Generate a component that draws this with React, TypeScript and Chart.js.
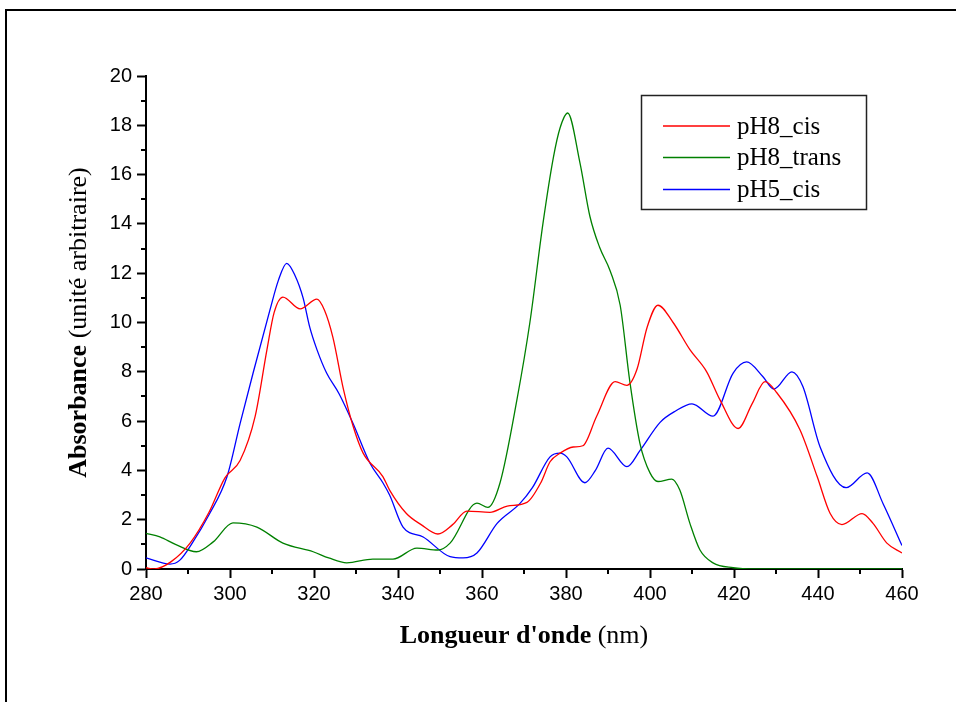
import React, { useEffect, useRef } from "react";
import { Chart, registerables } from "chart.js";

Chart.register(...registerables);

// ---- Data ----
const SERIES_LABELS = ["pH8_cis", "pH8_trans", "pH5_cis"];
const SERIES_COLORS = ["#ff0000", "#008000", "#0000ff"];

const redX = [280, 282, 286, 290.5, 295, 298.8, 302.4, 306, 308.8, 310.5, 312.6, 316.7, 320.7, 322.5, 324.5, 327, 329.3, 331.7, 336.4, 338, 342, 345.5, 349.5, 353, 356.4, 361.9, 366, 370.7, 374, 376.2, 378.6, 381.7, 384, 387.3, 391.7, 394.5, 396.9, 399.3, 401.9, 405.5, 409.5, 413.5, 416.7, 421, 424.3, 427.4, 430.2, 435.7, 439.8, 442.9, 445.7, 450.5, 453.1, 456.4, 460];
const redY = [0.05, 0.0, 0.3, 1.05, 2.3, 3.7, 4.4, 6.2, 8.9, 10.4, 11.03, 10.55, 10.95, 10.5, 9.4, 7.3, 5.8, 4.7, 3.75, 3.2, 2.25, 1.8, 1.42, 1.8, 2.35, 2.3, 2.55, 2.7, 3.5, 4.35, 4.7, 4.95, 5.0, 6.2, 7.6, 7.45, 8.1, 9.8, 10.7, 10.0, 8.9, 8.0, 6.85, 5.7, 6.7, 7.6, 7.15, 5.65, 3.75, 2.25, 1.8, 2.25, 1.85, 1.05, 0.65];

const greenX = [280, 283.3, 287, 292, 296, 300.7, 306.4, 312.6, 319.8, 323.5, 327.8, 334, 338.8, 344.5, 349.5, 352.4, 358.8, 361.4, 364.3, 368.3, 371.4, 374.5, 377, 378.6, 380.4, 383.3, 385.7, 388, 390.5, 392.9, 395.2, 397.6, 400, 401.9, 405.2, 407.1, 409.5, 411.9, 415, 419.8, 425, 440, 460];
const greenY = [1.45, 1.3, 1.0, 0.7, 1.1, 1.87, 1.7, 1.05, 0.7, 0.45, 0.25, 0.4, 0.4, 0.85, 0.77, 1.05, 2.67, 2.5, 3.5, 6.85, 10.0, 14.0, 16.7, 17.9, 18.5, 16.5, 14.3, 13.05, 12.1, 10.7, 7.6, 5.1, 3.9, 3.55, 3.65, 3.2, 1.85, 0.77, 0.25, 0.05, 0, 0, 0];

const blueX = [280, 285.7, 288, 291, 295, 299.3, 302.4, 305.5, 309.5, 311.5, 313.5, 315.5, 317.4, 319, 320.7, 323, 326, 329.3, 333.3, 336.4, 338, 341.2, 346, 352.4, 355.5, 358.8, 363.6, 369, 372, 376.2, 378.6, 380.2, 384.5, 387, 390, 394.5, 397.6, 402.4, 406, 410, 415, 419.8, 423, 426.9, 429.5, 433.8, 436.4, 440.5, 446.7, 451.7, 455.5, 460];
const blueY = [0.45, 0.2, 0.35, 1.05, 2.2, 3.75, 5.9, 7.95, 10.5, 11.7, 12.4, 11.9, 11.0, 9.8, 8.9, 7.95, 7.1, 5.9, 4.3, 3.5, 3.0, 1.7, 1.3, 0.5, 0.45, 0.65, 1.85, 2.65, 3.3, 4.55, 4.7, 4.55, 3.5, 4.0, 4.9, 4.15, 4.8, 5.95, 6.4, 6.7, 6.2, 7.95, 8.4, 7.8, 7.3, 8.0, 7.4, 4.95, 3.3, 3.9, 2.65, 0.95];

const X_MIN = 280, X_MAX = 460, X_STEP = 20;
const Y_MIN = 0, Y_MAX = 20, Y_STEP = 2;
const X_MINOR = [290, 310, 330, 350, 370, 390, 410, 430, 450];
const Y_MINOR = [1, 3, 5, 7, 9, 11, 13, 15, 17, 19];

const X_TITLE_BOLD = "Longueur d'onde";
const X_TITLE_NORMAL = " (nm)";
const Y_TITLE_BOLD = "Absorbance";
const Y_TITLE_NORMAL = " (unité arbitraire)";

const SERIF = '"Liberation Serif", "Times New Roman", serif';
const SANS = '"Liberation Sans", Arial, sans-serif';

function zip(xs: number[], ys: number[]) {
  return xs.map((x, i) => ({ x, y: ys[i] }));
}

const decorPlugin = {
  id: "decor",
  afterDraw(chart: any) {
    const { ctx, chartArea, scales } = chart;
    const xs = scales.x, ys = scales.y;
    ctx.save();
    ctx.strokeStyle = "#000";
    ctx.lineWidth = 2;
    // minor ticks
    ctx.beginPath();
    for (const v of Y_MINOR) {
      const py = Math.round(ys.getPixelForValue(v));
      ctx.moveTo(chartArea.left - 5, py);
      ctx.lineTo(chartArea.left, py);
    }
    for (const v of X_MINOR) {
      const px = Math.round(xs.getPixelForValue(v));
      ctx.moveTo(px, chartArea.bottom);
      ctx.lineTo(px, chartArea.bottom + 5);
    }
    ctx.stroke();

    // axis titles (mixed bold / normal)
    const fs = 26;
    const drawMixed = (bold: string, normal: string, cx: number, cy: number, rot: number) => {
      ctx.save();
      ctx.translate(cx, cy);
      ctx.rotate(rot);
      ctx.fillStyle = "#000";
      ctx.textBaseline = "middle";
      ctx.textAlign = "left";
      ctx.font = `bold ${fs}px ${SERIF}`;
      const wb = ctx.measureText(bold).width;
      ctx.font = `${fs}px ${SERIF}`;
      const wn = ctx.measureText(normal).width;
      const start = -(wb + wn) / 2;
      ctx.font = `bold ${fs}px ${SERIF}`;
      ctx.fillText(bold, start, 0);
      ctx.font = `${fs}px ${SERIF}`;
      ctx.fillText(normal, start + wb, 0);
      ctx.restore();
    };
    const cxArea = (chartArea.left + chartArea.right) / 2;
    const cyArea = (chartArea.top + chartArea.bottom) / 2;
    drawMixed(X_TITLE_BOLD, X_TITLE_NORMAL, cxArea, chartArea.bottom + 67, 0);
    drawMixed(Y_TITLE_BOLD, Y_TITLE_NORMAL, chartArea.left - 67, cyArea, -Math.PI / 2);

    // legend box
    const bx = 641, by = 95, bw = 225, bh = 114;
    ctx.lineWidth = 1.5;
    ctx.strokeStyle = "#222";
    ctx.strokeRect(bx + 0.5, by + 0.5, bw, bh);
    const rowY = [126, 157.5, 189.5];
    ctx.font = `25px ${SERIF}`;
    ctx.textBaseline = "middle";
    ctx.textAlign = "left";
    chart.data.datasets.forEach((ds: any, i: number) => {
      const y = rowY[i];
      ctx.strokeStyle = ds.borderColor;
      ctx.lineWidth = 1.3;
      ctx.beginPath();
      ctx.moveTo(bx + 22, y);
      ctx.lineTo(bx + 89, y);
      ctx.stroke();
      ctx.fillStyle = "#000";
      ctx.fillText(ds.label, bx + 96, y + 1);
    });
    ctx.restore();
  },
};

export default function App() {
  const ref = useRef<HTMLCanvasElement | null>(null);
  useEffect(() => {
    if (!ref.current) return;
    const seriesX = [redX, greenX, blueX];
    const seriesY = [redY, greenY, blueY];
    const chart = new Chart(ref.current, {
      type: "line",
      data: {
        datasets: SERIES_LABELS.map((label, i) => ({
          label,
          data: zip(seriesX[i], seriesY[i]),
          borderColor: SERIES_COLORS[i],
          backgroundColor: SERIES_COLORS[i],
          borderWidth: 1.3,
          pointRadius: 0,
          fill: false,
          cubicInterpolationMode: "monotone" as const,
        })),
      },
      options: {
        animation: false,
        responsive: false,
        devicePixelRatio: 1,
        layout: { padding: { left: 0, top: 76, right: 54, bottom: 0 } },
        plugins: { legend: { display: false }, tooltip: { enabled: false } },
        scales: {
          x: {
            type: "linear",
            min: X_MIN,
            max: X_MAX,
            afterFit: (s: any) => { s.height = 133; },
            ticks: { stepSize: X_STEP, color: "#000", font: { family: SANS, size: 20 }, padding: 4, maxRotation: 0 },
            grid: { drawOnChartArea: false, drawTicks: true, tickLength: 9, tickWidth: 2, tickColor: "#000" },
            border: { display: true, color: "#000", width: 2 },
          },
          y: {
            type: "linear",
            min: Y_MIN,
            max: Y_MAX,
            afterFit: (s: any) => { s.width = 146; },
            ticks: { stepSize: Y_STEP, color: "#000", font: { family: SANS, size: 20 }, padding: 5 },
            grid: { drawOnChartArea: false, drawTicks: true, tickLength: 9, tickWidth: 2, tickColor: "#000" },
            border: { display: true, color: "#000", width: 2 },
          },
        },
      },
      plugins: [decorPlugin],
    });
    return () => chart.destroy();
  }, []);

  return (
    <div style={{ position: "absolute", left: 0, top: 0, width: 956, height: 702, overflow: "hidden", background: "#fff" }}>
      <div
        style={{
          position: "absolute",
          left: 5,
          top: 9,
          width: 951,
          height: 693,
          borderLeft: "2px solid #000",
          borderTop: "2px solid #000",
          boxSizing: "border-box",
        }}
      />
      <canvas ref={ref} width={956} height={702} style={{ position: "absolute", left: 0, top: 0, display: "block" }} />
    </div>
  );
}
